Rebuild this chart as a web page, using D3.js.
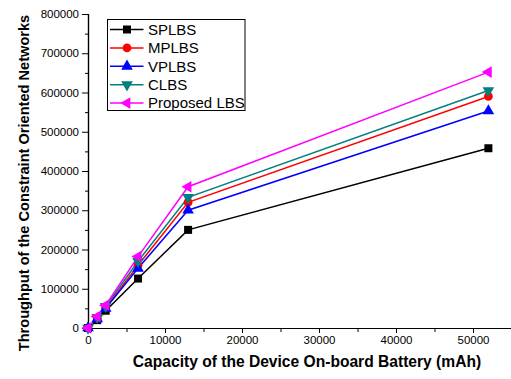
<!DOCTYPE html>
<html><head><meta charset="utf-8">
<script src="https://cdn.jsdelivr.net/npm/d3@7/dist/d3.min.js"></script>
<style>body{margin:0;background:#fff}svg{display:block}text{font-family:"Liberation Sans",Arial,sans-serif}</style>
</head><body><svg id="c" width="511" height="379"></svg>
<script>
const capacity = [0, 1200, 2300, 6500, 13000, 52000];
const seriesNames = ["SPLBS", "MPLBS", "VPLBS", "CLBS", "Proposed LBS"];
const splbs    = [0, 20000, 44000, 126000, 250000, 458000];
const mplbs    = [0, 25000, 52000, 160000, 320000, 590000];
const vplbs    = [0, 23000, 50000, 152000, 300000, 553000];
const clbs     = [0, 27000, 55000, 170000, 333000, 605000];
const proposed = [0, 29000, 58000, 182000, 360000, 652000];
const xTicks = [0, 10000, 20000, 30000, 40000, 50000];
const yTicks = [0, 100000, 200000, 300000, 400000, 500000, 600000, 700000, 800000];

const colors = ["#000000", "#ff0000", "#0000ff", "#008080", "#ff00ff"];
const symbols = [d3.symbolSquare, d3.symbolCircle, d3.symbolTriangle, d3.symbolTriangle, d3.symbolTriangle];
const rotations = [0, 0, 0, 180, -90];
const sizes = [64, 60, 58, 58, 58];
const allSeries = [splbs, mplbs, vplbs, clbs, proposed];

const svg = d3.select("#c");
const x = d3.scaleLinear().domain([0, 55000]).range([88, 511.5]);
const y = d3.scaleLinear().domain([0, 800000]).range([328, 14]);

// axes
svg.append("g").attr("transform", "translate(0,328)")
  .call(d3.axisBottom(x).tickValues(xTicks).tickFormat(d3.format("d")).tickSize(5).tickPadding(3));
svg.append("g").attr("transform", "translate(0,328)")
  .call(d3.axisBottom(x).tickValues(d3.range(5000, 55001, 10000)).tickFormat("").tickSize(4));
svg.append("g").attr("transform", "translate(88,0)")
  .call(d3.axisLeft(y).tickValues(yTicks).tickFormat(d3.format("d")).tickSize(6).tickPadding(3));
svg.append("g").attr("transform", "translate(88,0)")
  .call(d3.axisLeft(y).tickValues(d3.range(50000, 800000, 100000)).tickFormat("").tickSize(3));
svg.selectAll(".domain").attr("stroke", "#000").attr("stroke-width", 1.2);
svg.selectAll(".tick line").attr("stroke", "#000").attr("stroke-width", 1);
svg.selectAll(".tick text").attr("font-size", "11.5px").attr("fill", "#000")
  .attr("font-family", "'Liberation Sans', Arial, sans-serif");

// labels
svg.append("text").attr("x", 307).attr("y", 367).attr("text-anchor", "middle")
  .attr("font-size", "15.6px").attr("font-weight", "bold")
  .text("Capacity of the Device On-board Battery (mAh)");
svg.append("text").attr("transform", "translate(29,183) rotate(-90)").attr("text-anchor", "middle")
  .attr("font-size", "14.6px").attr("font-weight", "bold")
  .text("Throughput of the Constraint Oriented Networks");

// lines and markers
const line = d3.line().x((d, i) => x(capacity[i])).y(d => y(d));
allSeries.forEach((s, k) => {
  svg.append("path").datum(s).attr("d", line).attr("fill", "none")
    .attr("stroke", colors[k]).attr("stroke-width", 1.5);
});
allSeries.forEach((s, k) => {
  svg.append("g").selectAll("path").data(s).join("path")
    .attr("d", d3.symbol().type(symbols[k]).size(sizes[k]))
    .attr("transform", (d, i) => `translate(${x(capacity[i])},${y(d)}) rotate(${rotations[k]})`)
    .attr("fill", colors[k]);
});

// legend
const lg = svg.append("g");
lg.append("rect").attr("x", 107.5).attr("y", 19.5).attr("width", 137.5).attr("height", 91)
  .attr("fill", "#fff").attr("stroke", "#000").attr("stroke-width", 1);
seriesNames.forEach((n, k) => {
  const yy = 29.5 + k * 18.4;
  lg.append("line").attr("x1", 110).attr("x2", 143.5).attr("y1", yy).attr("y2", yy)
    .attr("stroke", colors[k]).attr("stroke-width", 1.5);
  lg.append("path").attr("d", d3.symbol().type(symbols[k]).size(sizes[k]))
    .attr("transform", `translate(127,${yy}) rotate(${rotations[k]})`).attr("fill", colors[k]);
  lg.append("text").attr("x", 148).attr("y", yy + 5.3).attr("font-size", "15px").text(n);
});
</script></body></html>
